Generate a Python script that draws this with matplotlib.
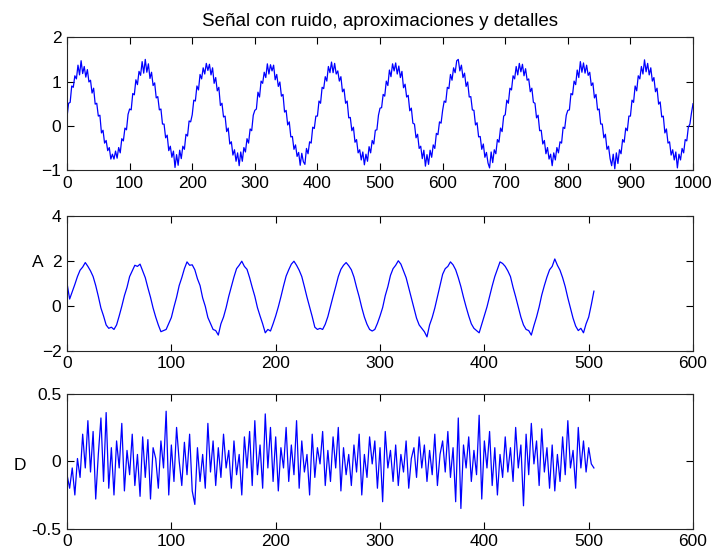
import numpy as np
import matplotlib
matplotlib.use("Agg")
import matplotlib.pyplot as plt

# Señal con ruido (una muestra cada 2.5 puntos, x = 0..1000)
signal_vals = [
    0.20, 0.51, 0.53, 0.90, 0.87, 1.13, 1.06, 1.37, 1.15, 1.47, 1.18, 1.34, 1.10, 1.27, 0.99, 1.03, 0.74, 0.85, 0.49, 0.51,
    0.22, 0.24, -0.16, -0.10, -0.39, -0.33, -0.56, -0.49, -0.75, -0.64, -0.75, -0.57, -0.73, -0.49, -0.61, -0.29, -0.34, -0.05, -0.09, 0.26,
    0.38, 0.36, 0.73, 0.70, 1.04, 0.93, 1.23, 1.14, 1.45, 1.19, 1.50, 1.21, 1.40, 1.07, 1.21, 0.91, 0.97, 0.63, 0.66, 0.36,
    0.38, 0.04, 0.04, -0.27, -0.21, -0.56, -0.46, -0.71, -0.57, -0.94, -0.65, -0.89, -0.55, -0.74, -0.46, -0.53, -0.19, -0.23, 0.11, 0.09,
    0.25, 0.58, 0.56, 0.90, 0.81, 1.16, 1.06, 1.31, 1.17, 1.41, 1.25, 1.39, 1.15, 1.31, 0.96, 1.09, 0.79, 0.87, 0.46, 0.51,
    0.20, 0.22, -0.13, -0.05, -0.41, -0.36, -0.66, -0.54, -0.80, -0.61, -0.90, -0.59, -0.80, -0.49, -0.59, -0.29, -0.39, -0.07, -0.11, 0.24,
    0.35, 0.38, 0.76, 0.65, 1.01, 0.96, 1.21, 1.09, 1.40, 1.17, 1.38, 1.24, 1.37, 1.04, 1.16, 0.89, 0.99, 0.67, 0.71, 0.31,
    0.35, 0.02, 0.09, -0.25, -0.24, -0.53, -0.43, -0.69, -0.60, -0.89, -0.62, -0.81, -0.87, -0.51, -0.63, -0.36, -0.39, -0.03, -0.06, 0.22,
    0.22, 0.56, 0.51, 0.87, 0.84, 1.11, 1.01, 1.34, 1.20, 1.44, 1.20, 1.41, 1.17, 1.24, 1.01, 1.11, 0.77, 0.83, 0.51, 0.56,
    0.18, 0.19, -0.11, -0.03, -0.37, -0.31, -0.61, -0.54, -0.77, -0.59, -0.88, -0.64, -0.80, -0.47, -0.61, -0.33, -0.41, -0.10, -0.09, 0.24,
    0.40, 0.41, 0.71, 0.67, 1.01, 0.91, 1.26, 1.11, 1.40, 1.24, 1.42, 1.17, 1.35, 1.09, 1.23, 0.86, 0.94, 0.65, 0.69, 0.34,
    0.40, 0.06, 0.04, -0.27, -0.19, -0.51, -0.46, -0.74, -0.55, -0.91, -0.65, -0.87, -0.55, -0.71, -0.43, -0.51, -0.17, -0.20, 0.09, 0.06,
    0.35, 0.56, 0.53, 0.87, 0.84, 1.16, 1.03, 1.31, 1.20, 1.47, 1.50, 1.24, 1.37, 1.09, 1.19, 0.89, 0.99, 0.65, 0.66, 0.36,
    0.35, 0.02, 0.07, -0.25, -0.24, -0.53, -0.41, -0.71, -0.60, -0.84, -0.95, -0.59, -0.83, -0.54, -0.63, -0.31, -0.37, -0.05, -0.13, 0.22,
    0.25, 0.58, 0.51, 0.85, 0.81, 1.13, 1.06, 1.34, 1.15, 1.41, 1.22, 1.39, 1.13, 1.29, 1.03, 1.06, 0.77, 0.85, 0.53, 0.51,
    0.18, 0.24, -0.11, -0.10, -0.41, -0.33, -0.63, -0.49, -0.75, -0.64, -0.90, -0.61, -0.77, -0.49, -0.61, -0.36, -0.39, -0.03, -0.06, 0.24,
    0.35, 0.36, 0.73, 0.70, 1.01, 0.93, 1.26, 1.09, 1.45, 1.21, 1.42, 1.19, 1.37, 1.14, 1.21, 0.91, 0.97, 0.63, 0.71, 0.36,
    0.38, 0.04, 0.04, -0.27, -0.19, -0.53, -0.46, -0.74, -0.90, -0.64, -0.97, -0.61, -0.85, -0.54, -0.63, -0.31, -0.37, -0.05, -0.11, 0.22,
    0.22, 0.58, 0.53, 0.90, 0.79, 1.13, 1.06, 1.34, 1.17, 1.49, 1.22, 1.41, 1.15, 1.31, 1.01, 1.09, 0.77, 0.85, 0.49, 0.54,
    0.20, 0.22, -0.16, -0.07, -0.39, -0.36, -0.66, -0.54, -0.77, -0.59, -0.95, -0.64, -0.77, -0.51, -0.61, -0.31, -0.34, -0.03, 0.04, 0.29,
    0.50,
]
signal_step = 2.5

# Aproximación A (cada 2.5 puntos, x = 0..505)
approx_vals = [
    1.00, 0.30, 0.62, 0.95, 1.30, 1.58, 1.72, 1.92, 1.75, 1.55, 1.30, 0.90, 0.42, -0.10, -0.45, -0.85, -1.00, -0.95, -1.05, -0.85,
    -0.45, -0.02, 0.45, 0.82, 1.30, 1.55, 1.80, 1.75, 1.85, 1.55, 1.25, 0.80, 0.38, -0.10, -0.50, -0.85, -1.15, -1.10, -1.05, -0.78,
    -0.52, -0.05, 0.38, 0.90, 1.25, 1.65, 1.95, 1.80, 1.82, 1.60, 1.20, 0.90, 0.35, -0.02, -0.52, -0.78, -1.05, -1.10, -1.30, -0.80,
    -0.50, -0.08, 0.42, 0.85, 1.28, 1.65, 1.80, 1.98, 1.75, 1.62, 1.25, 0.82, 0.42, -0.08, -0.45, -0.80, -1.20, -1.05, -1.12, -0.80,
    -0.45, -0.05, 0.40, 0.88, 1.32, 1.60, 1.85, 1.98, 1.80, 1.58, 1.30, 0.85, 0.38, -0.05, -0.48, -0.95, -1.05, -1.00, -1.05, -0.82,
    -0.48, -0.02, 0.42, 0.85, 1.30, 1.62, 1.80, 1.92, 1.78, 1.60, 1.28, 0.82, 0.40, -0.08, -0.50, -0.82, -1.05, -1.12, -1.05, -0.78,
    -0.45, -0.08, 0.45, 0.85, 1.35, 1.65, 1.80, 2.00, 1.85, 1.55, 1.25, 0.80, 0.35, -0.10, -0.55, -0.85, -1.00, -1.15, -1.38, -0.85,
    -0.52, -0.10, 0.40, 0.90, 1.40, 1.65, 1.75, 1.95, 1.82, 1.60, 1.25, 0.85, 0.38, -0.05, -0.45, -0.80, -1.00, -1.10, -1.20, -0.82,
    -0.45, -0.05, 0.42, 0.88, 1.30, 1.62, 1.95, 1.88, 1.75, 1.55, 1.30, 0.82, 0.40, -0.05, -0.50, -0.85, -1.05, -1.10, -1.30, -0.88,
    -0.50, -0.05, 0.48, 0.90, 1.28, 1.60, 1.75, 2.08, 1.80, 1.58, 1.25, 0.85, 0.35, -0.10, -0.55, -0.90, -1.10, -1.00, -1.20, -0.80,
    -0.50, 0.05, 0.65,
]
approx_step = 2.5

# Detalle D (cada 2.5 puntos, x = 0..505)
detail_vals = [
    -0.10, -0.20, -0.05, -0.25, 0.02, -0.12, 0.20, -0.05, 0.30, -0.08,
    0.22, -0.28, 0.05, 0.32, -0.15, 0.36, -0.20, 0.10, -0.25, 0.15,
    -0.05, 0.28, -0.22, 0.08, -0.10, 0.20, -0.18, 0.05, -0.26, 0.18,
    -0.12, 0.16, -0.28, 0.10, 0.02, -0.20, 0.15, -0.05, 0.37, -0.25,
    0.12, -0.15, 0.25, 0.00, -0.18, 0.14, -0.10, 0.20, -0.22, -0.32,
    0.10, -0.15, 0.05, -0.20, 0.28, -0.08, 0.15, -0.18, 0.10, -0.12,
    0.20, -0.05, 0.08, -0.20, 0.15, -0.10, 0.05, -0.25, 0.18, -0.05,
    0.22, -0.18, 0.30, -0.10, 0.12, -0.20, 0.35, -0.05, 0.25, -0.15,
    0.18, -0.22, 0.10, -0.05, 0.25, -0.15, 0.12, -0.10, 0.30, -0.20,
    0.15, -0.08, 0.05, -0.25, 0.20, -0.12, 0.10, -0.02, 0.22, -0.18,
    0.08, -0.15, 0.18, -0.05, 0.25, -0.22, 0.10, -0.10, 0.05, -0.18,
    0.12, -0.08, 0.20, -0.25, 0.05, -0.12, 0.18, -0.02, 0.15, -0.20,
    0.10, -0.30, 0.22, -0.05, 0.08, -0.15, 0.12, -0.18, 0.05, -0.08,
    0.15, -0.20, 0.02, 0.10, -0.12, 0.18, -0.05, 0.12, -0.15, 0.08,
    -0.10, 0.20, -0.18, 0.05, 0.15, -0.08, 0.22, -0.12, 0.10, -0.30,
    0.32, -0.35, 0.12, -0.05, 0.18, -0.15, 0.08, -0.10, 0.34, -0.28,
    0.15, -0.05, 0.22, -0.18, 0.10, -0.25, 0.05, -0.12, 0.18, -0.08,
    0.10, -0.15, 0.25, -0.05, 0.12, -0.33, 0.20, -0.10, 0.28, -0.02,
    0.15, -0.18, 0.24, -0.08, 0.10, -0.20, 0.12, -0.22, 0.05, -0.15,
    0.18, -0.10, 0.30, -0.05, 0.08, -0.20, 0.25, -0.05, 0.15, -0.08,
    0.10, -0.02, -0.05,
]
detail_step = 2.5

TITLE = "Señal con ruido, aproximaciones y detalles"
FONT = "Liberation Sans"
FS = 12.5


def style_axes(ax, xlim, ylim, xticks, yticks):
    ax.set_xlim(*xlim)
    ax.set_ylim(*ylim)
    ax.set_xticks(xticks)
    ax.set_yticks(yticks)
    ax.tick_params(direction="in", top=True, right=True, length=5, width=0.8,
                   labelsize=FS, pad=4)
    for s in ax.spines.values():
        s.set_linewidth(0.8)
        s.set_color("#262626")
    for lab in ax.get_xticklabels() + ax.get_yticklabels():
        lab.set_fontfamily(FONT)


fig = plt.figure(figsize=(7.13, 5.56), dpi=100)
fig.patch.set_facecolor("white")

ax1 = fig.add_axes([0.094, 0.694, 0.878, 0.239])
ax2 = fig.add_axes([0.094, 0.369, 0.878, 0.243])
ax3 = fig.add_axes([0.094, 0.049, 0.878, 0.243])

x1 = np.arange(len(signal_vals)) * signal_step
ax1.plot(x1, signal_vals, color="#0000ff", lw=0.9)
style_axes(ax1, (0, 1000), (-1, 2), range(0, 1001, 100), [-1, 0, 1, 2])
ax1.set_title(TITLE, fontsize=13.5, fontfamily=FONT, pad=8)

x2 = np.arange(len(approx_vals)) * approx_step
ax2.plot(x2, approx_vals, color="#0000ff", lw=0.9)
style_axes(ax2, (0, 600), (-2, 4), range(0, 601, 100), [-2, 0, 2, 4])
ax2.set_ylabel("A", rotation=0, fontsize=FS, fontfamily=FONT)
ax2.yaxis.set_label_coords(-0.046, 0.6)

x3 = np.arange(len(detail_vals)) * detail_step
ax3.plot(x3, detail_vals, color="#0000ff", lw=0.9)
style_axes(ax3, (0, 600), (-0.5, 0.5), range(0, 601, 100), [-0.5, 0, 0.5])
ax3.set_yticklabels(["-0.5", "0", "0.5"])
for lab in ax3.get_yticklabels():
    lab.set_fontfamily(FONT)
ax3.set_ylabel("D", rotation=0, fontsize=FS, fontfamily=FONT)
ax3.yaxis.set_label_coords(-0.075, 0.41)

fig.savefig("out.png", dpi=100)
